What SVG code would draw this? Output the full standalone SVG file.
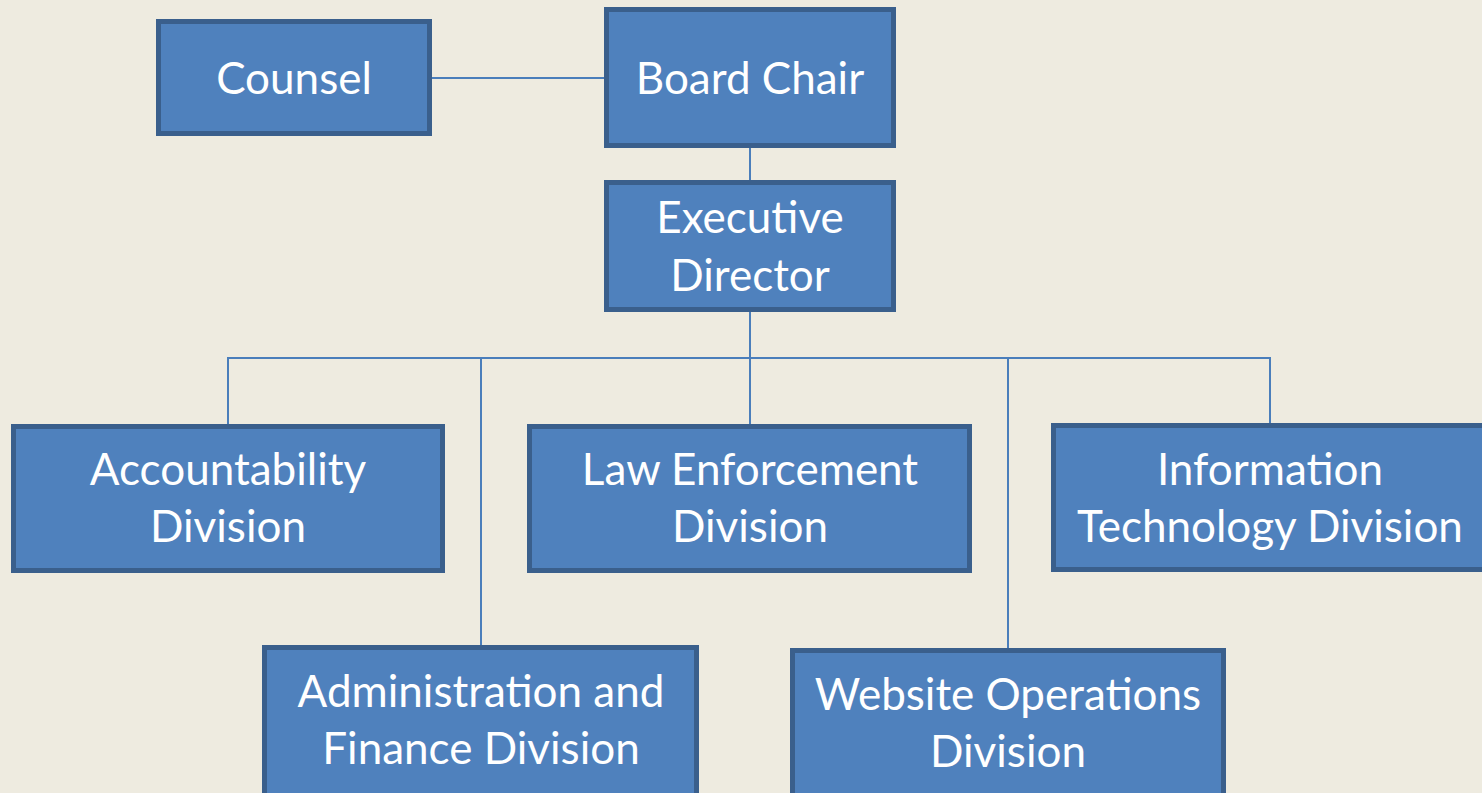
<svg xmlns="http://www.w3.org/2000/svg" width="1482" height="793" viewBox="0 0 1482 793">
<style>
.box{fill:#4F81BD;stroke:#3A5F8C;stroke-width:5}
.t{font-family:Lato,"Open Sans","Liberation Sans",sans-serif;font-size:44px;fill:#FFFFFF;text-anchor:middle}
.c{stroke:#4A7EBB;stroke-width:2;fill:none}
</style>
<rect width="1482" height="793" fill="#EEEBE0"/>
<g id="connectors">
<line class="c" x1="432" y1="78" x2="604" y2="78"/>
<line class="c" x1="750" y1="148" x2="750" y2="180"/>
<line class="c" x1="750" y1="312" x2="750" y2="424"/>
<line class="c" x1="228" y1="358" x2="1270" y2="358"/>
<line class="c" x1="228" y1="357" x2="228" y2="424"/>
<line class="c" x1="481" y1="357" x2="481" y2="645"/>
<line class="c" x1="1008" y1="357" x2="1008" y2="648"/>
<line class="c" x1="1270" y1="357" x2="1270" y2="424"/>
</g>
<g id="counsel"><rect class="box" x="158.5" y="21.5" width="271" height="112"/><text class="t" x="294" y="94">Counsel</text></g>
<g id="board-chair"><rect class="box" x="606.5" y="9.5" width="287" height="136"/><text class="t" x="750" y="94">Board Chair</text></g>
<g id="executive-director"><rect class="box" x="606.5" y="182.5" width="287" height="127"/><text class="t" x="750" y="233">Executive</text><text class="t" x="750" y="291">Director</text></g>
<g id="accountability"><rect class="box" x="13.5" y="426.5" width="429" height="144"/><text class="t" x="228" y="485">Accountability</text><text class="t" x="228" y="542">Division</text></g>
<g id="law-enforcement"><rect class="box" x="529.5" y="426.5" width="440" height="144"/><text class="t" x="750" y="485">Law Enforcement</text><text class="t" x="750" y="542">Division</text></g>
<g id="information-technology"><rect class="box" x="1053.5" y="425.5" width="440" height="144"/><text class="t" x="1270" y="485">Information</text><text class="t" x="1270" y="542">Technology Division</text></g>
<g id="administration-finance"><rect class="box" x="264.5" y="647.5" width="432" height="160"/><text class="t" x="481" y="707">Administration and</text><text class="t" x="481" y="764">Finance Division</text></g>
<g id="website-operations"><rect class="box" x="792.5" y="650.5" width="431" height="160"/><text class="t" x="1008" y="710">Website Operations</text><text class="t" x="1008" y="767">Division</text></g>
</svg>
